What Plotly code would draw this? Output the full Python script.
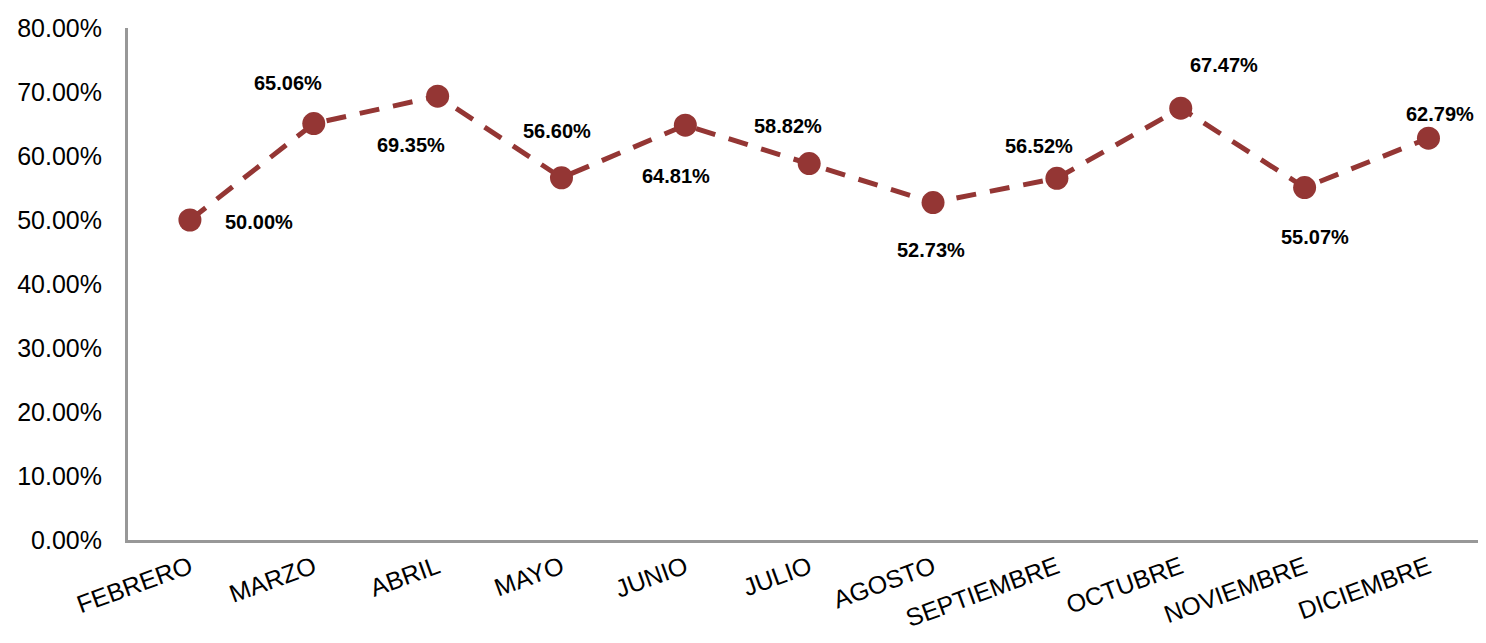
import plotly.graph_objects as go

months = ["FEBRERO", "MARZO", "ABRIL", "MAYO", "JUNIO", "JULIO", "AGOSTO",
          "SEPTIEMBRE", "OCTUBRE", "NOVIEMBRE", "DICIEMBRE"]
values = [50.00, 65.06, 69.35, 56.60, 64.81, 58.82, 52.73, 56.52, 67.47, 55.07, 62.79]
value_labels = ["50.00%", "65.06%", "69.35%", "56.60%", "64.81%", "58.82%", "52.73%",
                "56.52%", "67.47%", "55.07%", "62.79%"]
y_ticks = [0, 10, 20, 30, 40, 50, 60, 70, 80]
y_tick_labels = ["0.00%", "10.00%", "20.00%", "30.00%", "40.00%", "50.00%", "60.00%",
                 "70.00%", "80.00%"]

# label offsets in pixels (x, y downwards)
label_offsets = [(69, 2), (-26, -41), (-27, 49), (-4, -47), (-9, 51), (-21, -38),
                 (-2, 47), (-18, -32), (43, -43), (10, 49), (12, -24)]

COLOR = "#943634"
FONT = "Liberation Sans Narrow, Arial Narrow, Liberation Sans, Arial, sans-serif"

fig = go.Figure()
fig.add_trace(go.Scatter(
    x=months, y=values, mode="lines+markers",
    line=dict(color=COLOR, width=5, dash="20px,14px"),
    marker=dict(color=COLOR, size=23),
    hoverinfo="skip", showlegend=False,
))

for m, v, t, (dx, dy) in zip(months, values, value_labels, label_offsets):
    fig.add_annotation(x=m, y=v, text="<b>" + t + "</b>", showarrow=False,
                       xshift=dx, yshift=-dy,
                       font=dict(family=FONT, size=20, color="black"))

fig.update_layout(
    width=1470, height=627,
    margin=dict(l=120, r=0, t=20, b=95),
    plot_bgcolor="white", paper_bgcolor="white",
    font=dict(family=FONT, color="black"),
)
fig.update_xaxes(
    type="category", range=[-0.5, 10.4], automargin=False,
    showline=True, linecolor="#989898", linewidth=3,
    showgrid=False, ticks="", tickangle=-20,
    tickfont=dict(family=FONT, size=25, color="black"),
)
fig.update_yaxes(
    range=[0, 80], tickvals=y_ticks, ticktext=y_tick_labels, automargin=False,
    showline=True, linecolor="#989898", linewidth=3,
    showgrid=False, zeroline=False, ticks="", ticklabelstandoff=18,
    tickfont=dict(family=FONT, size=25, color="black"),
)

fig.write_html("out.html")
